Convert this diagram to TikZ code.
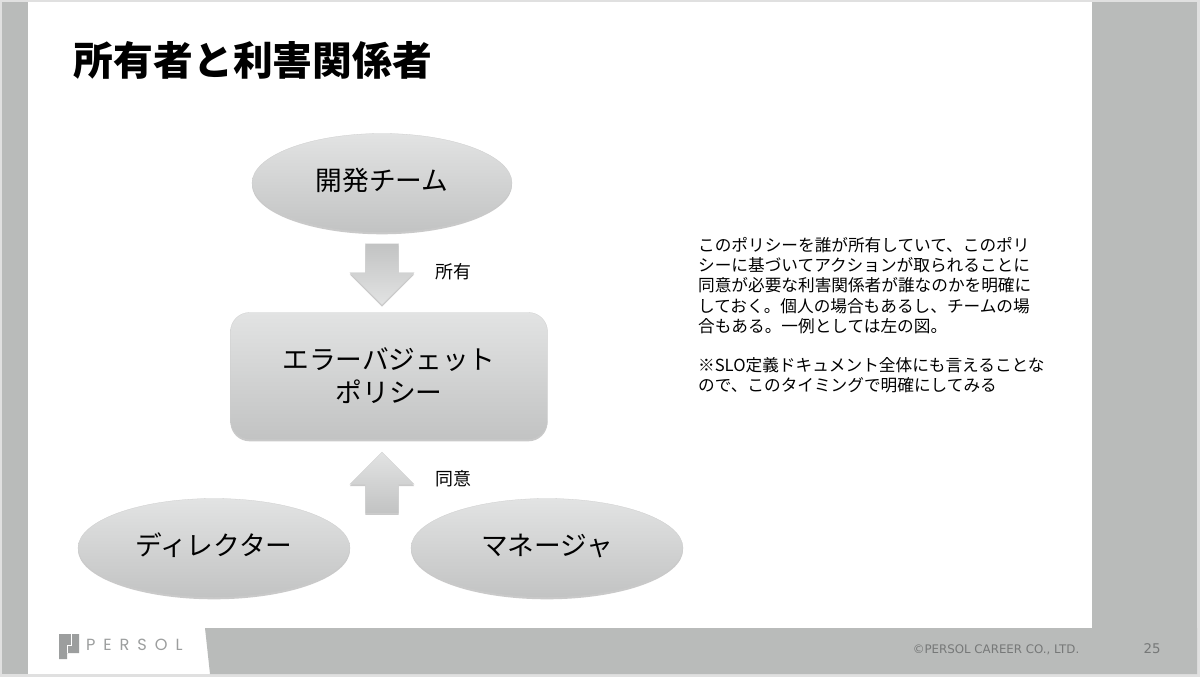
\documentclass[tikz,border=0pt]{standalone}
\usepackage{fontspec}
\setmainfont{Noto Sans CJK JP}
\newfontfamily\latinfont{DejaVu Sans}
\newfontfamily\logofont{Poppins}
\usetikzlibrary{shapes.geometric, shapes.arrows, shadows, positioning}
\definecolor{barGray}{HTML}{B9BBBA}
\definecolor{edgeGray}{HTML}{E0E0E0}
\definecolor{footGray}{HTML}{767878}
\definecolor{logoGray}{HTML}{9C9E9E}
\definecolor{shapeLight}{HTML}{E2E3E3}
\definecolor{shapeMid}{HTML}{DFE0E0}
\definecolor{shapeDark}{HTML}{C2C3C3}
\tikzset{
  softshadow/.style = {
    drop shadow = {shadow xshift = 0cm, shadow yshift = -0.09cm, opacity = 0.35, fill = black!60}
  },
  grayshade/.style = {
    top color = shapeLight, middle color = shapeMid, bottom color = shapeDark,
    draw = black!20, line width = 0.4pt, softshadow
  },
  stakeholder/.style = {
    ellipse, grayshade, inner sep = 0pt, text depth = 0.36cm, font = \fontsize{38}{44}\selectfont
  },
  blockarrow/.style = {
    single arrow, rotate = #1, inner xsep = 0pt, inner ysep = 0.825cm,
    minimum height = 3.05cm, single arrow head extend = 0.775cm,
    single arrow tip angle = 90, single arrow head indent = 0cm,
    draw = black!18, line width = 0.4pt, softshadow
  },
  arrowlabel/.style = {font = \fontsize{25.5}{30}\selectfont, anchor = center}
}
\begin{document}
\begin{tikzpicture}[x = 0.05cm, y = -0.05cm]
  \useasboundingbox (0, 0) rectangle (1200, 677);
  \fill [edgeGray] (0, 0) rectangle (1200, 677);
  \fill [white] (28, 2) rectangle (1092, 674);
  \fill [barGray] (2, 2) rectangle (28, 674);
  \fill [barGray] (1092, 2) rectangle (1197, 674);
  \fill [barGray] (205, 628) -- (1197, 628) -- (1197, 674) -- (210, 674) -- cycle;

  \node [font = \bfseries\fontsize{56.6}{60}\selectfont, anchor = center] (title)
    at (253, 60) {所有者と利害関係者};

  \node [stakeholder, minimum width = 13cm, minimum height = 4.95cm] (devteam)
    at (382, 183) {開発チーム};
  \node [grayshade, rectangle, rounded corners = 0.95cm, align = center,
    minimum width = 15.85cm, minimum height = 6.35cm,
    font = \fontsize{38}{47}\selectfont] (policy)
    at (389, 376) {エラーバジェット\\ポリシー};
  \node [stakeholder, minimum width = 13.6cm, minimum height = 4.95cm] (director)
    at (214, 548) {ディレクター};
  \node [stakeholder, minimum width = 13.6cm, minimum height = 4.95cm] (manager)
    at (547, 548) {マネージャ};

  \node [blockarrow = 270, top color = shapeDark, bottom color = shapeLight] (owns) at (382, 266) {};
  \node [blockarrow = 90, top color = shapeLight, bottom color = shapeDark]  (agrees) at (382, 491) {};
  \node [arrowlabel] (ownslabel) at (453, 272) {所有};
  \node [arrowlabel] (agreeslabel) at (453, 479) {同意};

  \node [anchor = north west, inner sep = 0pt, align = left,
    font = \fontsize{23.7}{28.9}\selectfont] (note) at (698, 237)
    {このポリシーを誰が所有していて、このポリ\\
     シーに基づいてアクションが取られることに\\
     同意が必要な利害関係者が誰なのかを明確に\\
     しておく。個人の場合もあるし、チームの場\\
     合もある。一例としては左の図。\\[26pt]
     ※SLO定義ドキュメント全体にも言えることな\\
     ので、このタイミングで明確にしてみる};

  \fill [logoGray] (59, 634) -- (79, 634) -- (79, 653) -- (67, 653) -- (67, 659) -- (59, 659) -- cycle;
  \draw [white, line width = 1.3pt] (71, 634) -- (71, 645) -- (67, 645) -- (67, 653);
  \node [text = logoGray, font = \logofont\fontsize{23}{26}\selectfont, anchor = west, inner sep = 0pt] (logo)
    at (86, 644.5) {P\hspace{11.3pt}E\hspace{11.3pt}R\hspace{11.3pt}S\hspace{11.3pt}O\hspace{11.3pt}L};
  \node [text = footGray, font = \latinfont\fontsize{16.8}{20}\selectfont] (copyright)
    at (996, 650) {©PERSOL CAREER CO., LTD.};
  \node [text = footGray, font = \latinfont\fontsize{19}{22}\selectfont] (pagenum)
    at (1152, 649) {25};
\end{tikzpicture}
\end{document}
